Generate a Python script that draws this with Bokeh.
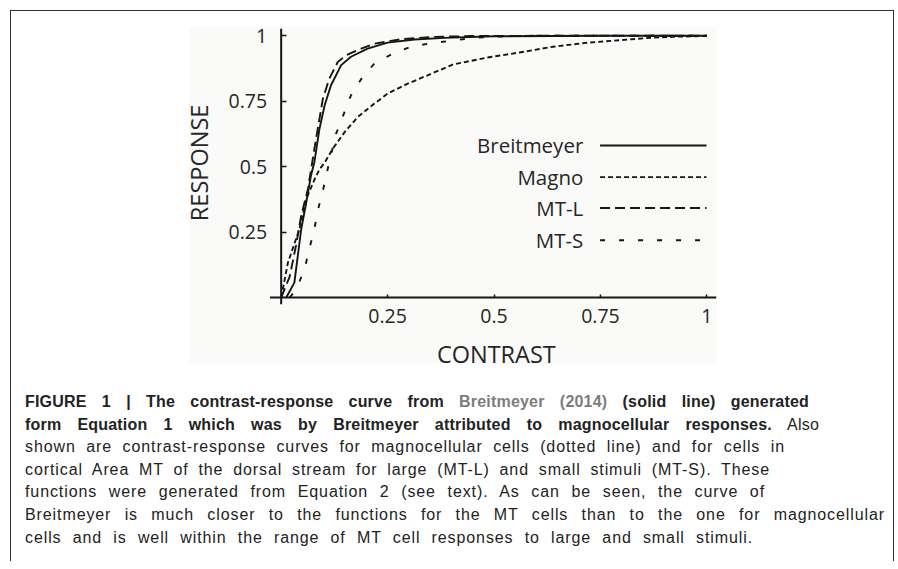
import math
from bokeh.plotting import figure
from bokeh.models import FixedTicker, Label, Div
from bokeh.layouts import column
from bokeh.embed import file_html
from bokeh.resources import INLINE
from bokeh.core.properties import value

# ---------------- data ----------------
series_names = ["Breitmeyer", "Magno", "MT-L", "MT-S"]

breit_x = [0.012, 0.031, 0.047, 0.059, 0.070, 0.078, 0.090, 0.102, 0.117, 0.141,
           0.164, 0.203, 0.250, 0.313, 0.383, 0.500, 0.750, 1.000]
breit_y = [0.000, 0.057, 0.260, 0.364, 0.466, 0.517, 0.645, 0.734, 0.811, 0.888,
           0.920, 0.951, 0.974, 0.986, 0.992, 0.998, 1.000, 1.000]

magno_x = [0.000, 0.016, 0.043, 0.059, 0.078, 0.090, 0.102, 0.121, 0.149, 0.180,
           0.219, 0.250, 0.297, 0.344, 0.403, 0.481, 0.559, 0.638, 0.716, 0.794,
           0.872, 0.919, 1.000]
magno_y = [0.000, 0.134, 0.262, 0.377, 0.450, 0.490, 0.515, 0.568, 0.632, 0.690,
           0.741, 0.779, 0.817, 0.849, 0.890, 0.916, 0.936, 0.958, 0.973, 0.983,
           0.993, 0.996, 1.000]

mtl_x = [0.000, 0.020, 0.035, 0.047, 0.063, 0.078, 0.086, 0.098, 0.113, 0.133,
         0.153, 0.188, 0.219, 0.282, 0.360, 0.450, 0.600, 0.800, 1.000]
mtl_y = [0.000, 0.080, 0.200, 0.313, 0.415, 0.568, 0.645, 0.760, 0.836, 0.900,
         0.926, 0.951, 0.970, 0.987, 0.996, 0.999, 1.000, 1.000, 1.000]

mts_x = [0.020, 0.035, 0.055, 0.066, 0.078, 0.086, 0.098, 0.113, 0.129, 0.149,
         0.164, 0.189, 0.219, 0.262, 0.305, 0.352, 0.399, 0.442, 0.489, 0.536,
         0.600, 0.800, 1.000]
mts_y = [0.000, 0.030, 0.109, 0.185, 0.262, 0.332, 0.409, 0.517, 0.626, 0.709,
         0.773, 0.837, 0.894, 0.932, 0.958, 0.972, 0.981, 0.990, 0.996, 0.998,
         1.000, 1.000, 1.000]

tick_values = [0.25, 0.5, 0.75, 1]
tick_labels = ["0.25", "0.5", "0.75", "1"]

x_title = "CONTRAST"
y_title = "RESPONSE"

caption_lines = [
    '<b>FIGURE 1 | The contrast-response curve from <span style="color:#7d7d7d">Breitmeyer (2014)</span> (solid line) generated</b>',
    '<b>form Equation 1 which was by Breitmeyer attributed to magnocellular responses.</b> Also',
    'shown are contrast-response curves for magnocellular cells (dotted line) and for cells in',
    'cortical Area MT of the dorsal stream for large (MT-L) and small stimuli (MT-S). These',
    'functions were generated from Equation 2 (see text). As can be seen, the curve of',
    'Breitmeyer is much closer to the functions for the MT cells than to the one for magnocellular',
    'cells and is well within the range of MT cell responses to large and small stimuli.',
]

# ---------------- styles / layout ----------------
INK = "#151515"
TXT = "#262626"
FONT = "Open Sans"

styles = {
    "Breitmeyer": dict(line_dash="solid"),
    "Magno": dict(line_dash="5 3"),
    "MT-L": dict(line_dash="10 5"),
    "MT-S": dict(line_dash="5 14"),
}
LW = 1.9

p = figure(width=882, height=380,
           x_range=(-0.2153, 1.0225), y_range=(-0.2519, 1.0355),
           output_backend="svg", toolbar_location=None,
           min_border_left=178, min_border_right=177,
           min_border_top=15, min_border_bottom=28,
           background_fill_color="#fafaf8", border_fill_color="white",
           outline_line_color=None)
p.grid.visible = False

for ax in (p.xaxis[0], p.yaxis[0]):
    ax.fixed_location = 0
    ax.ticker = FixedTicker(ticks=tick_values)
    ax.major_label_overrides = dict(zip(tick_values, tick_labels))
    ax.axis_line_color = None
    ax.major_tick_line_color = INK
    ax.major_tick_line_width = 1.5
    ax.major_tick_out = 0
    ax.minor_tick_line_color = None
    ax.major_label_text_font = FONT
    ax.major_label_text_font_size = "19.5px"
    ax.major_label_text_color = TXT
p.xaxis.major_tick_in = 3
p.yaxis.major_tick_in = 5
p.xaxis.major_label_standoff = 11
p.yaxis.major_label_standoff = 14

# axis lines (cross at the origin, slight overhang)
p.segment(x0=[-0.026, 0.0], y0=[0.0, -0.026], x1=[1.0225, 0.0], y1=[0.0, 1.027],
          line_color=INK, line_width=2)

# curves
data = {
    "Breitmeyer": (breit_x, breit_y),
    "Magno": (magno_x, magno_y),
    "MT-L": (mtl_x, mtl_y),
    "MT-S": (mts_x, mts_y),
}
for name in series_names:
    xs, ys = data[name]
    p.line(xs, ys, line_color=INK, line_width=LW, **styles[name])

# legend (label left, sample right)
leg_y = [0.581, 0.460, 0.342, 0.219]
for name, yy in zip(series_names, leg_y):
    p.segment(x0=[0.749], x1=[0.999], y0=[yy], y1=[yy],
              line_color=INK, line_width=LW, **styles[name])
p.text(x=[0.7096] * 4, y=leg_y, text=series_names,
       text_align="right", text_baseline="middle",
       text_font=value(FONT), text_font_size="20.5px", text_color=TXT)

p.add_layout(Label(x=-0.193, y=0.5145, text=y_title, angle=math.pi / 2,
                   text_align="center", text_baseline="middle",
                   text_font=FONT, text_font_size="23.5px", text_color=TXT))
p.add_layout(Label(x=0.5054, y=-0.2164, text=x_title,
                   text_align="center", text_baseline="middle",
                   text_font=FONT, text_font_size="23.5px", text_color=TXT))

# caption
line_widths = [784, 794, 760, 745, 740, 860, 728]
rows = []
for i, (txt, w) in enumerate(zip(caption_lines, line_widths)):
    ls = "0.2px" if i < 2 else "0.9px"
    rows.append(
        f'<div style="width:{w}px;white-space:nowrap;text-align:justify;'
        f'text-align-last:justify;letter-spacing:{ls};">{txt}</div>')
cap_html = (
    '<div style="padding-left:14px;font-family:\'Liberation Sans\',Arial,sans-serif;'
    'font-size:16px;line-height:22.6px;color:#222;">' + "".join(rows) + '</div>')
cap = Div(text=cap_html, width=882, height=170, margin=(0, 0, 0, 0))

root = column(p, cap, styles={
    "border-left": "1.5px solid #333", "border-top": "1.5px solid #333",
    "border-right": "1.5px solid #333",
    "margin-left": "10px", "margin-top": "10px",
})

open("out.html", "w").write(file_html(root, INLINE, title="Figure 1"))
